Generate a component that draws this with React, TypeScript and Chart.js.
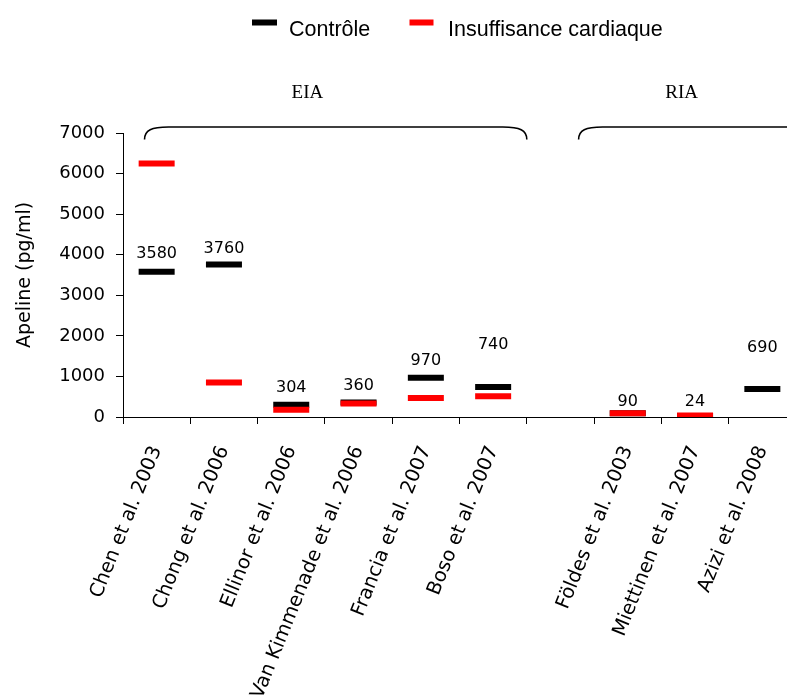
import React, { useEffect, useRef } from "react";
import { Chart, registerables } from "chart.js";

Chart.register(...registerables);

// ---- data ----
const studies = [
  "Chen et al. 2003",
  "Chong et al. 2006",
  "Ellinor et al. 2006",
  "Van Kimmenade et al. 2006",
  "Francia et al. 2007",
  "Boso et al. 2007",
  "",
  "Földes et al. 2003",
  "Miettinen et al. 2007",
  "Azizi et al. 2008",
];
const controle: (number | null)[] = [3580, 3760, 304, 360, 970, 740, null, 90, 24, 690];
const insuffisance: (number | null)[] = [6250, 850, 180, 330, 470, 510, null, 90, 40, null];
const seriesNames = ["Contrôle", "Insuffisance cardiaque"];
const groupNames = ["EIA", "RIA"];
const yMin = 0;
const yMax = 7000;
const yStep = 1000;
const yTitle = "Apeline (pg/ml)";

// ---- styles ----
const BLACK = "#000000";
const RED = "#ff0000";
const labelLift = [18, 16, 17, 17, 17, 42, 0, 12, 14, 41];

const decorPlugin = {
  id: "decor",
  afterDatasetsDraw(chart: any) {
    const ctx = chart.ctx;
    const xs = chart.scales.x;
    const ys = chart.scales.y;
    ctx.save();
    ctx.fillStyle = BLACK;
    ctx.font = "16px 'DejaVu Sans'";
    ctx.textAlign = "center";
    ctx.textBaseline = "middle";
    controle.forEach((v, i) => {
      if (v == null) return;
      const x = xs.getPixelForTick(i);
      const y = ys.getPixelForValue(v) - labelLift[i];
      ctx.fillText(String(v), x, y);
    });
    ctx.restore();
  },
  afterDraw(chart: any) {
    const ctx = chart.ctx;
    const xs = chart.scales.x;
    const area = chart.chartArea;
    const w = xs.getPixelForTick(1) - xs.getPixelForTick(0);

    // x tick labels (rotated)
    ctx.save();
    ctx.fillStyle = BLACK;
    ctx.font = "19.5px 'DejaVu Sans'";
    ctx.textAlign = "right";
    ctx.textBaseline = "middle";
    studies.forEach((s, i) => {
      if (!s) return;
      const x = xs.getPixelForTick(i);
      ctx.save();
      ctx.translate(x, area.bottom + 30);
      ctx.rotate((-68 * Math.PI) / 180);
      ctx.fillText(s, 0, 0);
      ctx.restore();
    });
    ctx.restore();

    // y title
    ctx.save();
    ctx.fillStyle = BLACK;
    ctx.font = "19px 'DejaVu Sans'";
    ctx.textAlign = "center";
    ctx.textBaseline = "middle";
    ctx.translate(25, (area.top + area.bottom) / 2);
    ctx.rotate(-Math.PI / 2);
    ctx.fillText(yTitle, 0, 0);
    ctx.restore();

    // braces
    const yt = area.top - 6;
    const yb = area.top + 6.5;
    const brace = (x0: number, x1: number, openRight: boolean) => {
      ctx.beginPath();
      ctx.moveTo(x0, yb);
      ctx.bezierCurveTo(x0, yt + 3, x0 + 7, yt, x0 + 24, yt);
      if (openRight) {
        ctx.lineTo(x1, yt);
      } else {
        ctx.lineTo(x1 - 24, yt);
        ctx.bezierCurveTo(x1 - 7, yt, x1, yt + 3, x1, yb);
      }
      ctx.stroke();
    };
    ctx.save();
    ctx.strokeStyle = BLACK;
    ctx.lineWidth = 1.6;
    brace(xs.getPixelForTick(0) - 0.18 * w, xs.getPixelForTick(5) + 0.5 * w, false);
    brace(xs.getPixelForTick(6) + 0.27 * w, chart.width + 20, true);
    ctx.restore();

    // group labels
    ctx.save();
    ctx.fillStyle = BLACK;
    ctx.font = "19px 'Liberation Serif'";
    ctx.textAlign = "center";
    ctx.textBaseline = "middle";
    ctx.fillText(groupNames[0], xs.getPixelForTick(2) + 0.24 * w, 93.5);
    ctx.fillText(groupNames[1], xs.getPixelForTick(8) - 0.2 * w, 93.5);
    ctx.restore();

    // legend
    ctx.save();
    ctx.font = "21.5px 'Liberation Sans'";
    ctx.textAlign = "left";
    ctx.textBaseline = "alphabetic";
    ctx.fillStyle = BLACK;
    ctx.fillRect(252, 19.5, 25, 6);
    ctx.fillText(seriesNames[0], 289, 35.5);
    ctx.fillStyle = RED;
    ctx.fillRect(409.5, 19.5, 24, 6);
    ctx.fillStyle = BLACK;
    ctx.fillText(seriesNames[1], 448, 35.5);
    ctx.restore();
  },
};

export default function App() {
  const ref = useRef<HTMLCanvasElement | null>(null);

  useEffect(() => {
    if (!ref.current) return;
    const chart = new Chart(ref.current, {
      type: "line",
      data: {
        labels: studies,
        datasets: [
          {
            label: seriesNames[0],
            data: controle,
            showLine: false,
            pointStyle: "line",
            pointRadius: 18,
            pointHoverRadius: 18,
            pointBorderWidth: 6,
            pointHoverBorderWidth: 6,
            pointBorderColor: BLACK,
            borderColor: BLACK,
            backgroundColor: BLACK,
            order: 1,
          },
          {
            label: seriesNames[1],
            data: insuffisance,
            showLine: false,
            pointStyle: "line",
            pointRadius: 18,
            pointHoverRadius: 18,
            pointBorderWidth: 6,
            pointHoverBorderWidth: 6,
            pointBorderColor: RED,
            borderColor: RED,
            backgroundColor: RED,
            order: 0,
          },
        ],
      },
      options: {
        responsive: false,
        maintainAspectRatio: false,
        animation: false,
        events: [],
        layout: { autoPadding: false, padding: { left: 0, top: 133, right: 4, bottom: 0 } },
        plugins: {
          legend: { display: false },
          tooltip: { enabled: false },
          title: { display: false },
        },
        scales: {
          x: {
            type: "category",
            offset: true,
            grid: {
              offset: true,
              drawOnChartArea: false,
              drawTicks: true,
              tickLength: 7,
              color: BLACK,
            },
            border: { display: true, color: BLACK, width: 1 },
            ticks: { display: false },
            afterFit: (s: any) => {
              s.height = 278;
            },
          },
          y: {
            min: yMin,
            max: yMax,
            ticks: {
              stepSize: yStep,
              color: BLACK,
              padding: 11,
              font: { family: "'DejaVu Sans'", size: 18 },
              callback: (v: any) => String(v),
            },
            grid: {
              drawOnChartArea: false,
              drawTicks: true,
              tickLength: 7,
              color: BLACK,
            },
            border: { display: true, color: BLACK, width: 1 },
            afterFit: (s: any) => {
              s.width = 123;
            },
          },
        },
      },
      plugins: [decorPlugin],
    });
    return () => chart.destroy();
  }, []);

  return (
    <div
      style={{
        position: "fixed",
        left: 0,
        top: 0,
        width: 787,
        height: 695,
        overflow: "hidden",
        background: "#ffffff",
      }}
    >
      <canvas ref={ref} width={800} height={695} style={{ display: "block" }} />
    </div>
  );
}
